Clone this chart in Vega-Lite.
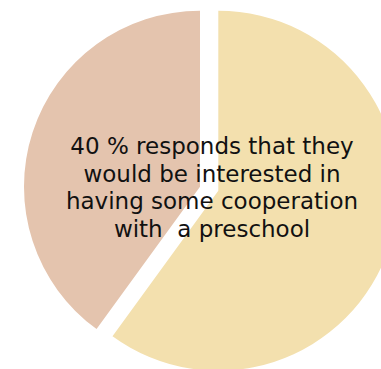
{
  "$schema": "https://vega.github.io/schema/vega-lite/v6.json",
  "width": 381,
  "height": 369,
  "padding": 0,
  "autosize": {"type": "none"},
  "background": "white",
  "config": {"view": {"stroke": null}},
  "datasets": {
    "slices": [
      {"answer": "Not interested", "share": 60},
      {"answer": "Interested in cooperation with a preschool", "share": 40}
    ],
    "note": [
      {"label": ["40 % responds that they", "would be interested in", "having some cooperation", "with \u00a0a preschool"]}
    ]
  },
  "layer": [
    {
      "data": {"name": "slices"},
      "mark": {"type": "arc", "radius": 180, "xOffset": 27.8, "yOffset": 6.2},
      "encoding": {
        "theta": {"field": "share", "type": "quantitative", "stack": true},
        "order": {"field": "share", "type": "quantitative", "sort": "descending"},
        "color": {
          "field": "answer", "type": "nominal",
          "scale": {"domain": ["Not interested", "Interested in cooperation with a preschool"], "range": ["#F3E0AE", "#E4C4AE"]},
          "legend": null
        },
        "opacity": {"condition": {"test": "datum.answer === 'Not interested'", "value": 1}, "value": 0}
      }
    },
    {
      "data": {"name": "slices"},
      "mark": {"type": "arc", "radius": 176, "xOffset": 9.5, "yOffset": 2.2},
      "encoding": {
        "theta": {"field": "share", "type": "quantitative", "stack": true},
        "order": {"field": "share", "type": "quantitative", "sort": "descending"},
        "color": {
          "field": "answer", "type": "nominal",
          "scale": {"domain": ["Not interested", "Interested in cooperation with a preschool"], "range": ["#F3E0AE", "#E4C4AE"]},
          "legend": null
        },
        "opacity": {"condition": {"test": "datum.answer !== 'Not interested'", "value": 1}, "value": 0}
      }
    },
    {
      "data": {"name": "note"},
      "mark": {"type": "text", "font": "DejaVu Sans", "fontSize": 23, "lineHeight": 27.7, "align": "center", "baseline": "alphabetic", "dx": 21.5, "dy": -30.5, "color": "#111111"},
      "encoding": {"text": {"field": "label"}}
    }
  ]
}
